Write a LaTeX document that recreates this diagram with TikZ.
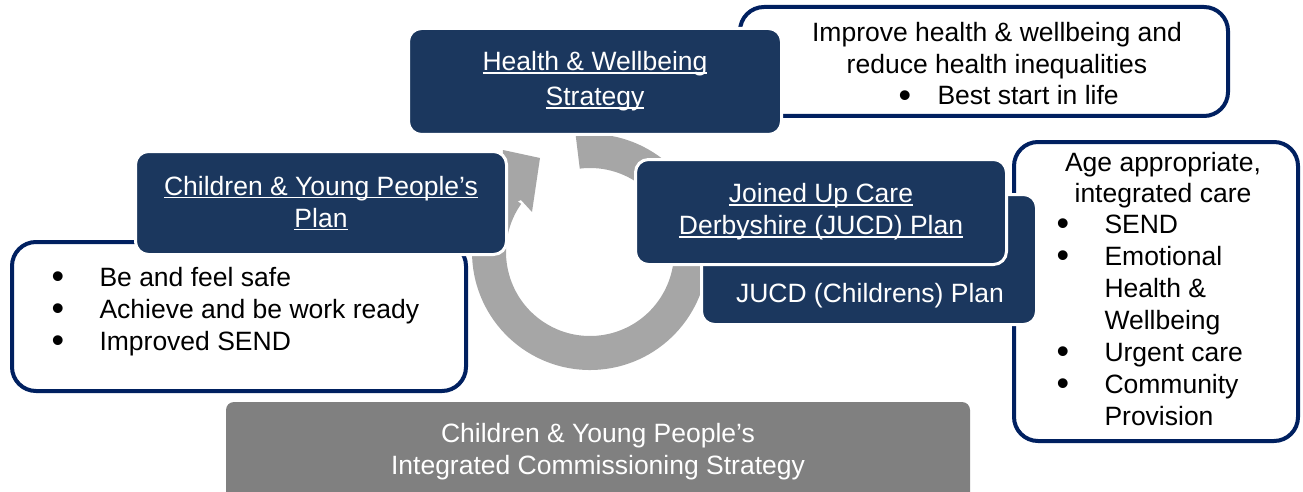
\documentclass[tikz,border=0pt]{standalone}
\usepackage{fontspec}
\setmainfont{Liberation Sans}

\definecolor{navyfill}{RGB}{27,55,94}
\definecolor{navyline}{RGB}{0,32,96}
\definecolor{arcgray}{RGB}{166,166,166}
\definecolor{basegray}{RGB}{128,128,128}

\newcommand\bodyfont{\fontsize{26.5}{32}\selectfont}
\newcommand\undl[1]{\setbox0=\hbox{#1}\rlap{\rule[-3pt]{\wd0}{1.5pt}}\box0}
\newcommand\bul{\makebox[9.3pt]{\smash{\raisebox{-2.5pt}{\scalebox{1.35}{•}}}}}

\tikzset{
  planbox/.style={fill=navyfill, draw=white, line width=3pt, rounded corners=13pt,
    text=white, align=center, font=\bodyfont, inner sep=0pt},
  aimbox/.style={fill=white, draw=navyline, line width=4pt, rounded corners=24pt, inner sep=0pt},
  basebox/.style={fill=basegray, rounded corners=8pt, text=white, align=center,
    font=\bodyfont, inner sep=0pt},
  aimtext/.style={font=\bodyfont, inner sep=0pt},
}

\begin{document}
\begin{tikzpicture}[x=1pt,y=-1pt]
\useasboundingbox (0,0) rectangle (1303,492);

% circular arrow
\fill[arcgray] (590,252) ++(-97:118) arc[start angle=-97, end angle=215, radius=118]
  -- ++(215:-34) arc[start angle=215, end angle=-97, radius=84] -- cycle;
\fill[arcgray] (503,150) -- (540,158) -- (532,212) -- (521,200) -- (500,210) -- cycle;

% health & wellbeing
\node[aimbox, minimum width=488pt, minimum height=109pt] (hwsaim) at (984,61.5) {};
\node[aimtext, anchor=base] (hwsaims) at (997,42)
  {\begin{tabular}[t]{@{}c@{}}Improve health \& wellbeing and\\reduce health inequalities\end{tabular}};
\node[aimtext, anchor=base west] (beststart) at (900,105) {\bul\hspace{28pt}Best start in life};
\node[planbox, minimum width=373pt, minimum height=106pt] (hws) at (595,81.5)
  {\undl{Health \& Wellbeing}\\[3pt]\undl{Strategy}};

% children & young people
\node[aimbox, minimum width=454pt, minimum height=149pt] (cypaim) at (239,316.5) {};
\node[aimtext, anchor=base west] (cypaims) at (53,286)
  {\begin{tabular}[t]{@{}l@{\hspace{37pt}}l@{}}
   \bul & Be and feel safe\\
   \bul & Achieve and be work ready\\
   \bul & Improved SEND
   \end{tabular}};
\node[planbox, minimum width=371pt, minimum height=103pt] (cyp) at (321,203)
  {\undl{Children \& Young People’s}\\\undl{Plan}};

% joined up care
\node[aimbox, minimum width=284pt, minimum height=299pt] (jucdaim) at (1156,291.5) {};
\node[aimtext, anchor=base] (agecare) at (1163,171)
  {\begin{tabular}[t]{@{}c@{}}Age appropriate,\\integrated care\end{tabular}};
\node[aimtext, anchor=base west] (jucdaims) at (1058,233)
  {\begin{tabular}[t]{@{}l@{\hspace{37pt}}l@{}}
   \bul & SEND\\
   \bul & Emotional\\
        & Health \&\\
        & Wellbeing\\
   \bul & Urgent care\\
   \bul & Community\\
        & Provision
   \end{tabular}};
\node[planbox, minimum width=335pt, minimum height=130pt] (jucdc) at (869,259.5) {};
\node[aimtext, text=white, anchor=base] (jucdctext) at (870,302) {JUCD (Childrens) Plan};
\node[planbox, minimum width=371pt, minimum height=105pt] (jucd) at (821,212)
  {\undl{Joined Up Care}\\\undl{Derbyshire (JUCD) Plan}};

% commissioning strategy
\node[basebox, minimum width=744pt, minimum height=100pt] (cics) at (598,452)
  {Children \& Young People’s\\Integrated Commissioning Strategy};

\end{tikzpicture}
\end{document}
